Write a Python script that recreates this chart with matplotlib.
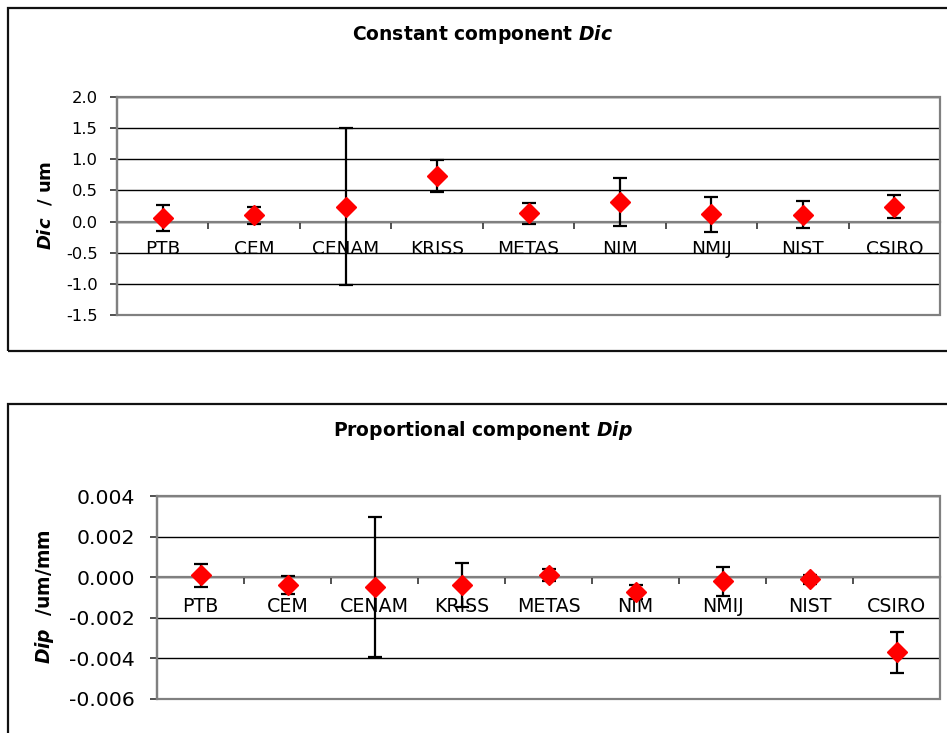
import matplotlib
matplotlib.use("Agg")
import matplotlib.pyplot as plt
from matplotlib.patches import Rectangle
from matplotlib.ticker import FixedLocator, FormatStrFormatter, NullFormatter, FixedFormatter

plt.rcParams['font.family'] = ['DejaVu Sans']
plt.rcParams['axes.unicode_minus'] = False
plt.rcParams['mathtext.fontset'] = 'dejavusans'

labs = ["PTB", "CEM", "CENAM", "KRISS", "METAS", "NIM", "NMIJ", "NIST", "CSIRO"]

dic_vals = [0.055, 0.10, 0.24, 0.735, 0.13, 0.32, 0.12, 0.11, 0.235]
dic_err = [0.205, 0.135, 1.26, 0.255, 0.165, 0.387, 0.28, 0.22, 0.185]
dic_ticks = [2.0, 1.5, 1.0, 0.5, 0.0, -0.5, -1.0, -1.5]

dip_vals = [0.0001, -0.0004, -0.00048, -0.0004, 0.0001, -0.00071, -0.0002, -0.0001, -0.0037]
dip_err = [0.00057, 0.00045, 0.00345, 0.00108, 0.0003, 0.00035, 0.00071, 0.00022, 0.001]
dip_ticks = [0.004, 0.002, 0.0, -0.002, -0.004, -0.006]

W, H = 947, 733
fig = plt.figure(figsize=(W / 100, H / 100), dpi=100)


def px(l, t, r, b):
    return [l / W, 1 - b / H, (r - l) / W, (b - t) / H]


# outer chart frames
for (l, t, r, b) in [(8, 8, 980, 351), (8, 404, 980, 760)]:
    fig.patches.append(Rectangle((l / W, 1 - b / H), (r - l) / W, (b - t) / H,
                                 transform=fig.transFigure, fill=False,
                                 edgecolor='#111111', lw=1.6, clip_on=False))


def make_panel(rect, vals, errs, ticks, fmt, ytick_fs, cat_fs, cat_pad, ypad):
    ax = fig.add_axes(rect)
    x = list(range(len(labs)))
    ax.set_xlim(-0.5, len(labs) - 0.5)
    ax.set_ylim(min(ticks), max(ticks))
    ax.yaxis.set_major_locator(FixedLocator(ticks))
    ax.yaxis.set_major_formatter(FormatStrFormatter(fmt))
    ax.yaxis.grid(True, color='black', lw=1.0)
    ax.set_axisbelow(True)
    for s in ['top', 'right']:
        ax.spines[s].set_visible(False)
    ax.spines['left'].set_color('#808080')
    ax.spines['left'].set_linewidth(1.6)
    ax.spines['bottom'].set_position(('data', 0))
    ax.spines['bottom'].set_color('#808080')
    ax.spines['bottom'].set_linewidth(1.6)
    ax.add_patch(Rectangle((0, 0), 1, 1, transform=ax.transAxes, fill=False,
                           edgecolor='#808080', lw=1.6, clip_on=False, zorder=2.4))
    # boundaries as major ticks, category names as minor
    ax.xaxis.set_major_locator(FixedLocator([i + 0.5 for i in range(-1, len(labs))]))
    ax.xaxis.set_major_formatter(NullFormatter())
    ax.xaxis.set_minor_locator(FixedLocator(x))
    ax.xaxis.set_minor_formatter(FixedFormatter(labs))
    ax.tick_params(axis='x', which='major', direction='out', length=5, width=1.2,
                   color='#333333')
    ax.tick_params(axis='x', which='minor', length=0, pad=cat_pad, labelsize=cat_fs)
    ax.tick_params(axis='y', direction='out', length=5, width=1.2, color='#333333',
                   pad=ypad, labelsize=ytick_fs)
    ax.errorbar(x, vals, yerr=errs, fmt='D', color='#ff0000', mec='#ff0000', ms=10,
                ecolor='black', elinewidth=1.6, capsize=4.7, capthick=1.6, zorder=3)
    return ax


ax1 = make_panel(px(117, 97, 940, 315), dic_vals, dic_err, dic_ticks, '%.1f',
                 11.8, 13.3, 13.5, 9)
ax2 = make_panel(px(157, 496, 940, 699), dip_vals, dip_err, dip_ticks, '%.3f',
                 14.7, 13.7, 14, 11)

fig.text(483 / W, 1 - 34.5 / H, r"Constant component $\mathbfit{Dic}$", ha='center',
         va='center', fontsize=13.5, fontweight='bold')
fig.text(483 / W, 1 - 430 / H, r"Proportional component $\mathbfit{Dip}$", ha='center',
         va='center', fontsize=13.5, fontweight='bold')
fig.text(45 / W, 1 - 205 / H, r"$\mathbfit{Dic}$  / um", rotation=90, ha='center',
         va='center', fontsize=13, fontweight='bold')
fig.text(45 / W, 1 - 597 / H, r"$\mathbfit{Dip}$  /um/mm", rotation=90, ha='center',
         va='center', fontsize=13.5, fontweight='bold')

fig.savefig("out.png", dpi=100, facecolor='white')
